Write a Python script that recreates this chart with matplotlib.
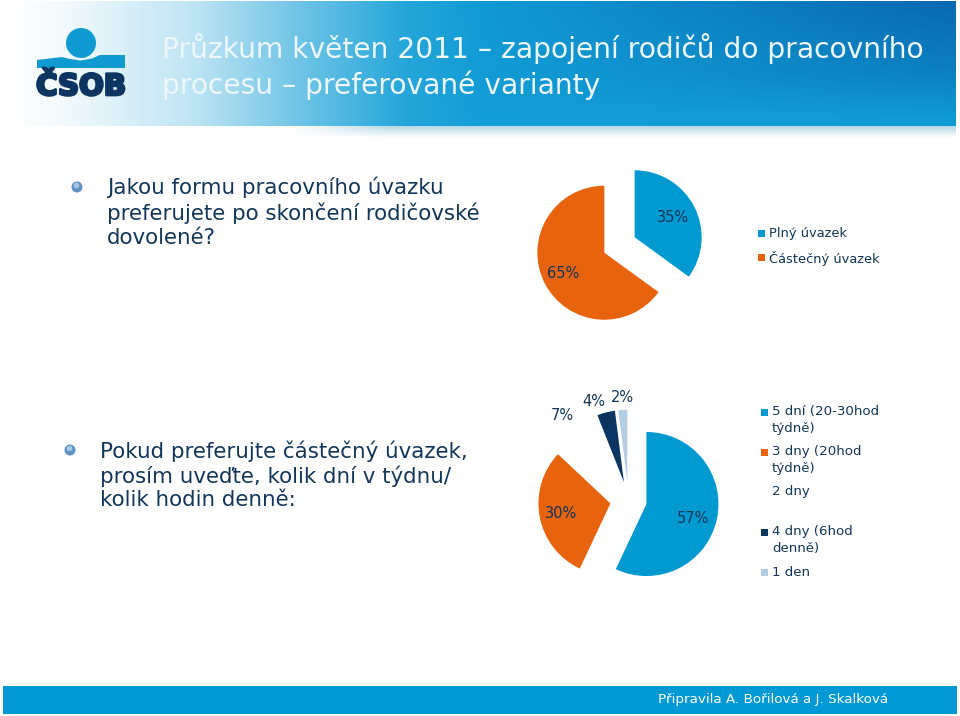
import numpy as np
import matplotlib
matplotlib.use('Agg')
import matplotlib.pyplot as plt
from matplotlib.patches import Rectangle, Circle, Polygon
import matplotlib.patheffects as pe

plt.rcParams['font.family'] = ['DejaVu Sans']

# survey data
title_lines = ['Průzkum květen 2011 – zapojení rodičů do pracovního', 'procesu – preferované varianty']
question1 = 'Jakou formu pracovního úvazku\npreferujete po skončení rodičovské\ndovolené?'
question2 = 'Pokud preferujte částečný úvazek,\nprosím uveďte, kolik dní v týdnu/\nkolik hodin denně:'
footer = 'Připravila A. Bořilová a J. Skalková'

labels1 = ['Plný úvazek', 'Částečný úvazek']
values1 = [35, 65]
colors1 = ['#0099d0', '#e8630d']

labels2 = ['5 dní (20-30hod\ntýdně)', '3 dny (20hod\ntýdně)', '2 dny', '4 dny (6hod\ndenně)', '1 den']
values2 = [57, 30, 7, 4, 2]
colors2 = ['#0099d0', '#e8630d', '#ffffff', '#0a3560', '#b4cce4']

TEXT = '#12365a'
W, H = 960, 716

fig = plt.figure(figsize=(W / 100, H / 100), dpi=100, facecolor='white')
ax = fig.add_axes([0, 0, 1, 1])


def reset_axes():
    ax.set_xlim(0, W)
    ax.set_ylim(H, 0)
    ax.set_aspect('auto')
    ax.axis('off')


def draw_pie(values, colors, cx, cy, r, explode, label_xy):
    # y is flipped afterwards, so these angles come out clockwise from the top
    wedges, _, autos = ax.pie(values, colors=colors, center=(cx, cy), radius=r,
                              explode=[explode] * len(values), startangle=-90,
                              counterclock=True, autopct='%d%%', frame=True,
                              textprops={'color': TEXT, 'fontsize': 10.5})
    for t, xy in zip(autos, label_xy):
        t.set_position(xy)
        t.set_ha('center')
        t.set_va('center')
    return wedges


def draw_legend(labels, colors, x, y, step, fs):
    for i, (lab, col) in enumerate(zip(labels, colors)):
        yy = y + i * step
        if col != '#ffffff':
            ax.add_patch(Rectangle((x, yy - 3.5), 7, 7, color=col, lw=0))
        ax.text(x + 11, yy - 6.5, lab, color=TEXT, fontsize=fs, va='top', ha='left', linespacing=1.32)


reset_axes()

# header gradient, white on the left and darker blue in the top right
xs = np.linspace(0, 1, 480)
ys = np.linspace(0, 1, 63)
white_mix = np.interp(xs, [0, 0.06, 0.2, 0.3, 0.42, 0.5], [1, 0.95, 0.72, 0.42, 0.08, 0])
dark_mix = np.interp(xs, [0.45, 1], [0, 1])[None, :] * np.interp(ys, [0, 0.6, 0.95], [1, 0.55, 0.05])[:, None]
base = np.array([0.07, 0.62, 0.84])
dark = np.array([0.03, 0.41, 0.69])
white = np.array([1.0, 1.0, 1.0])
img = base + (dark - base) * dark_mix[..., None]
img = img + (white - img) * white_mix[None, :, None]
ax.imshow(img, extent=(5, 956, 126, 1), aspect='auto', zorder=0, interpolation='bilinear')

# soft shadow under the header
shadow = np.ones((12, 320, 3))
fade_x = np.interp(np.linspace(0, 1, 320), [0, 0.15, 1], [0, 1, 1])[None, :]
fade_y = np.linspace(1, 0, 12)[:, None]
for k, c in enumerate([0.72, 0.85, 0.91]):
    shadow[:, :, k] = 1 - (1 - c) * fade_x * fade_y
ax.imshow(shadow, extent=(290, 956, 138, 126), aspect='auto', zorder=0, interpolation='bilinear')

# logo
ax.add_patch(Circle((81, 43), 15, color='#0f9bd1', lw=0, zorder=2))
ax.add_patch(Polygon([(37, 60), (62, 57), (70, 59), (81, 60.5), (92, 58.5), (100, 55), (125, 55), (125, 68), (37, 68)],
                     closed=True, color='#0f9bd1', lw=0, zorder=2))
ax.text(81, 87, 'ČSOB', color='#0d3561', fontsize=21, fontweight='bold', ha='center', va='center', zorder=2,
        path_effects=[pe.withStroke(linewidth=2, foreground='#0d3561')])

# title
ax.text(162, 48, title_lines[0], color='#eef8fc', fontsize=20.25, va='center', ha='left', zorder=3)
ax.text(162, 85, title_lines[1], color='#eef8fc', fontsize=20.25, va='center', ha='left', zorder=3)

# questions
for bx, by in [(77, 187), (70, 450)]:
    ax.add_patch(Circle((bx, by), 5.5, color='#5f93c8', lw=0, zorder=2))
    ax.add_patch(Circle((bx - 0.5, by - 1.5), 2.8, color='#a9c7e6', lw=0, zorder=2))
ax.text(107, 176, question1, color=TEXT, fontsize=15.4, va='top', ha='left', linespacing=1.28)
ax.text(100, 440.5, question2, color=TEXT, fontsize=15.4, va='top', ha='left', linespacing=1.2)

# first pie
draw_pie(values1, colors1, 619.5, 245, 67, 17, [(673.5, 217.5), (563.5, 273.5)])
draw_legend(labels1, colors1, 758, 233, 24, 9.4)

# second pie
draw_pie(values2, colors2, 628.5, 500, 72, 18.4,
         [(693, 518.5), (561, 513.5), (562.5, 415), (594, 401), (622, 397)])
draw_legend(labels2, colors2, 761, 412, 40, 9.6)
reset_axes()

# footer
ax.add_patch(Rectangle((3, 686), 954, 28, color='#0099d5', lw=0, zorder=1))
ax.text(773, 699, footer, color='white', fontsize=9.7, ha='center', va='center', zorder=2)

fig.savefig('out.png', dpi=100)
